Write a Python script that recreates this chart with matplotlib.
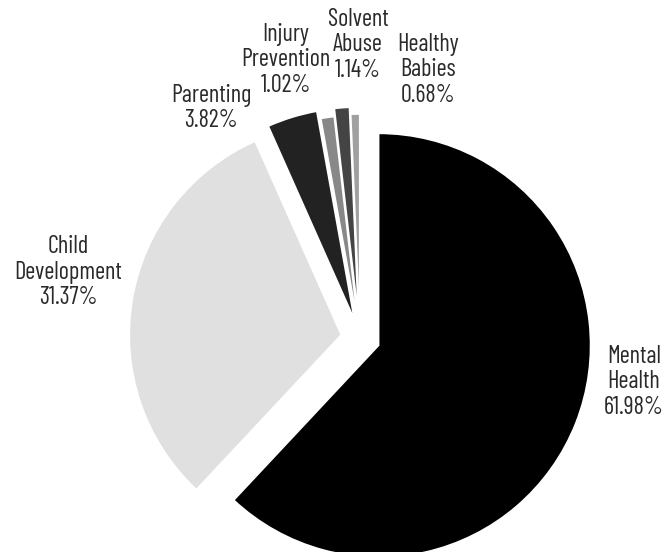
import matplotlib
matplotlib.use('Agg')
import matplotlib.pyplot as plt

plt.rcParams['font.family'] = ['Barlow Condensed', 'Liberation Sans Narrow', 'DejaVu Sans']

# data
programs = ['Mental\nHealth', 'Child\nDevelopment', 'Parenting',
            'Injury\nPrevention', 'Solvent\nAbuse', 'Healthy\nBabies']
shares = [61.98, 31.37, 3.82, 1.02, 1.14, 0.68]
colors = ['#000000', '#e0e0e0', '#222222', '#888888', '#444444', '#a0a0a0']
explode_px = [20, 19, 19, 11, 19, 12]

# label centres in pixels (x from left, y from top)
label_px = [(634, 382), (68, 272), (211, 108), (286, 60), (358, 45), (428, 70)]

R = 212.0          # pie radius in pixels
CX, CY = 360, 338  # pie centre in pixels

fig = plt.figure(figsize=(6.7, 5.52), dpi=100)
ax = fig.add_axes([0, 0, 1, 1])

ax.pie(shares, colors=colors, startangle=90, counterclock=False,
       explode=[e / R for e in explode_px],
       wedgeprops=dict(edgecolor='white', linewidth=1.2))

for name, val, (px, py) in zip(programs, shares, label_px):
    ax.text((px - CX) / R, (CY - py) / R, f'{name}\n{val:.2f}%',
            ha='center', va='center', fontsize=17.5, color='#2a2a2a',
            linespacing=1.12)

ax.set_xlim(-CX / R, (670 - CX) / R)
ax.set_ylim(-(552 - CY) / R, CY / R)
ax.set_aspect('auto')
ax.axis('off')

plt.savefig('out.png', dpi=100)
